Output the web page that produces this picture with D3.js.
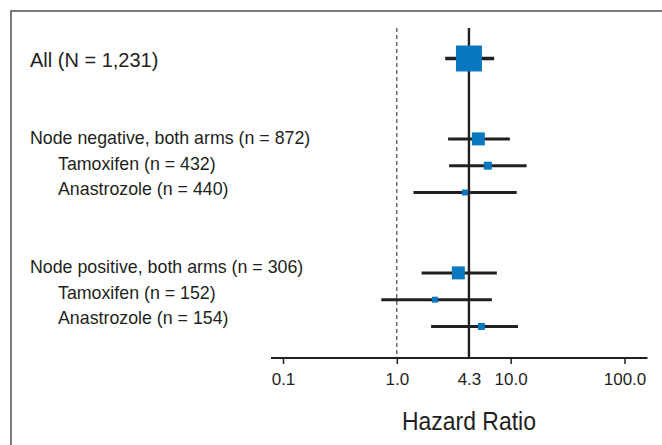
<!DOCTYPE html>
<html>
<head>
<meta charset="utf-8">
<script src="https://cdn.jsdelivr.net/npm/d3@7"></script>
<style>
  body { margin: 0; background: #fff; }
  svg { display: block; font-family: "Liberation Sans", Arial, Helvetica, sans-serif; }
</style>
</head>
<body>
<svg id="chart" width="662" height="445"></svg>
<script>
// Subgroup rows, top to bottom
var labels = [
  'All (N = 1,231)',
  'Node negative, both arms (n = 872)',
  'Tamoxifen (n = 432)',
  'Anastrozole (n = 440)',
  'Node positive, both arms (n = 306)',
  'Tamoxifen (n = 152)',
  'Anastrozole (n = 154)'
];
var rowSlot = [0, 3, 4, 5, 8, 9, 10];     // vertical slot of each row (gaps between groups)
var level = [0, 0, 1, 1, 0, 1, 1];        // 1 = indented sub row
var hazard = [4.3, 5.2, 6.3, 3.96, 3.47, 2.16, 5.53];
var lower = [2.66, 2.82, 2.88, 1.40, 1.65, 0.73, 2.0];
var upper = [7.16, 9.84, 13.8, 11.3, 7.56, 6.84, 11.6];
var weight = [100, 25, 9.5, 5.3, 25, 5.3, 7.2];  // relative weight -> box area

var tickValues = [0.1, 1, 4.3, 10, 100];
var refLine = 1;      // no effect
var overall = 4.3;    // pooled estimate

var ink = '#231f20';
var blue = '#0a78c0';

var svg = d3.select('#chart');

// frame, runs off the right and bottom edge
svg.append('rect')
  .attr('x', 11).attr('y', 11)
  .attr('width', 700).attr('height', 500)
  .attr('fill', 'none')
  .attr('stroke', '#5a5a5a')
  .attr('stroke-width', 1.6);

var x = d3.scaleLog().domain([0.1, 100]).range([283, 624.5]);
var yMark = d3.scaleLinear().domain([0, 10]).range([58.5, 326.5]);
var yLabel = d3.scaleLinear().domain([0, 10]).range([60, 318]);
var size = d3.scaleSqrt().domain([0, 100]).range([0, 26]);

var axisY = 358;
var topY = 28;

// dashed line of no effect
svg.append('line')
  .attr('x1', x(refLine)).attr('x2', x(refLine))
  .attr('y1', topY).attr('y2', axisY)
  .attr('stroke', ink).attr('stroke-width', 1)
  .attr('stroke-dasharray', '4,3');

// overall estimate line
svg.append('line')
  .attr('x1', x(overall)).attr('x2', x(overall))
  .attr('y1', topY).attr('y2', axisY)
  .attr('stroke', ink).attr('stroke-width', 2.4);

// x axis
var axis = d3.axisBottom(x)
  .tickValues(tickValues)
  .tickFormat(d3.format('.1f'))
  .tickSize(6)
  .tickPadding(9)
  .tickSizeOuter(0);

var gAxis = svg.append('g')
  .attr('transform', `translate(0,${axisY})`)
  .call(axis);

gAxis.select('.domain').remove();
gAxis.append('line')
  .attr('x1', x.range()[0] - 12).attr('x2', x.range()[1] + 23)
  .attr('stroke', ink).attr('stroke-width', 2);
gAxis.selectAll('.tick line')
  .attr('stroke', ink).attr('stroke-width', 1.5)
  .attr('display', d => d === overall ? 'none' : null);
gAxis.selectAll('.tick text')
  .attr('fill', ink)
  .style('font-size', '17px')
  .style('font-family', '"Liberation Sans", Arial, sans-serif');

svg.append('text')
  .attr('x', x(overall)).attr('y', 430)
  .attr('text-anchor', 'middle')
  .attr('fill', ink)
  .attr('textLength', 134)
  .attr('lengthAdjust', 'spacingAndGlyphs')
  .style('font-family', '"Liberation Sans Narrow", "Arial Narrow", "Liberation Sans", sans-serif')
  .style('font-size', '25px')
  .text('Hazard Ratio');

// rows
var rows = labels.map((d, i) => ({
  label: d, slot: rowSlot[i], level: level[i],
  hr: hazard[i], lo: lower[i], hi: upper[i], w: weight[i]
}));

svg.selectAll('.ci')
  .data(rows)
  .enter().append('line')
  .attr('class', 'ci')
  .attr('x1', d => x(d.lo)).attr('x2', d => x(d.hi))
  .attr('y1', d => yMark(d.slot)).attr('y2', d => yMark(d.slot))
  .attr('stroke', ink)
  .attr('stroke-width', d => d.slot === 0 ? 3.6 : 3);

svg.selectAll('.box')
  .data(rows)
  .enter().append('rect')
  .attr('class', 'box')
  .attr('x', d => x(d.hr) - size(d.w) / 2)
  .attr('y', d => yMark(d.slot) - size(d.w) / 2)
  .attr('width', d => size(d.w))
  .attr('height', d => size(d.w))
  .attr('fill', blue);

svg.selectAll('.label')
  .data(rows)
  .enter().append('text')
  .attr('class', 'label')
  .attr('x', d => d.level ? 58 : 30)
  .attr('y', d => yLabel(d.slot))
  .attr('dy', '0.36em')
  .attr('fill', ink)
  .style('font-size', d => d.slot === 0 ? '20px' : '17.8px')
  .text(d => d.label);
</script>
</body>
</html>
